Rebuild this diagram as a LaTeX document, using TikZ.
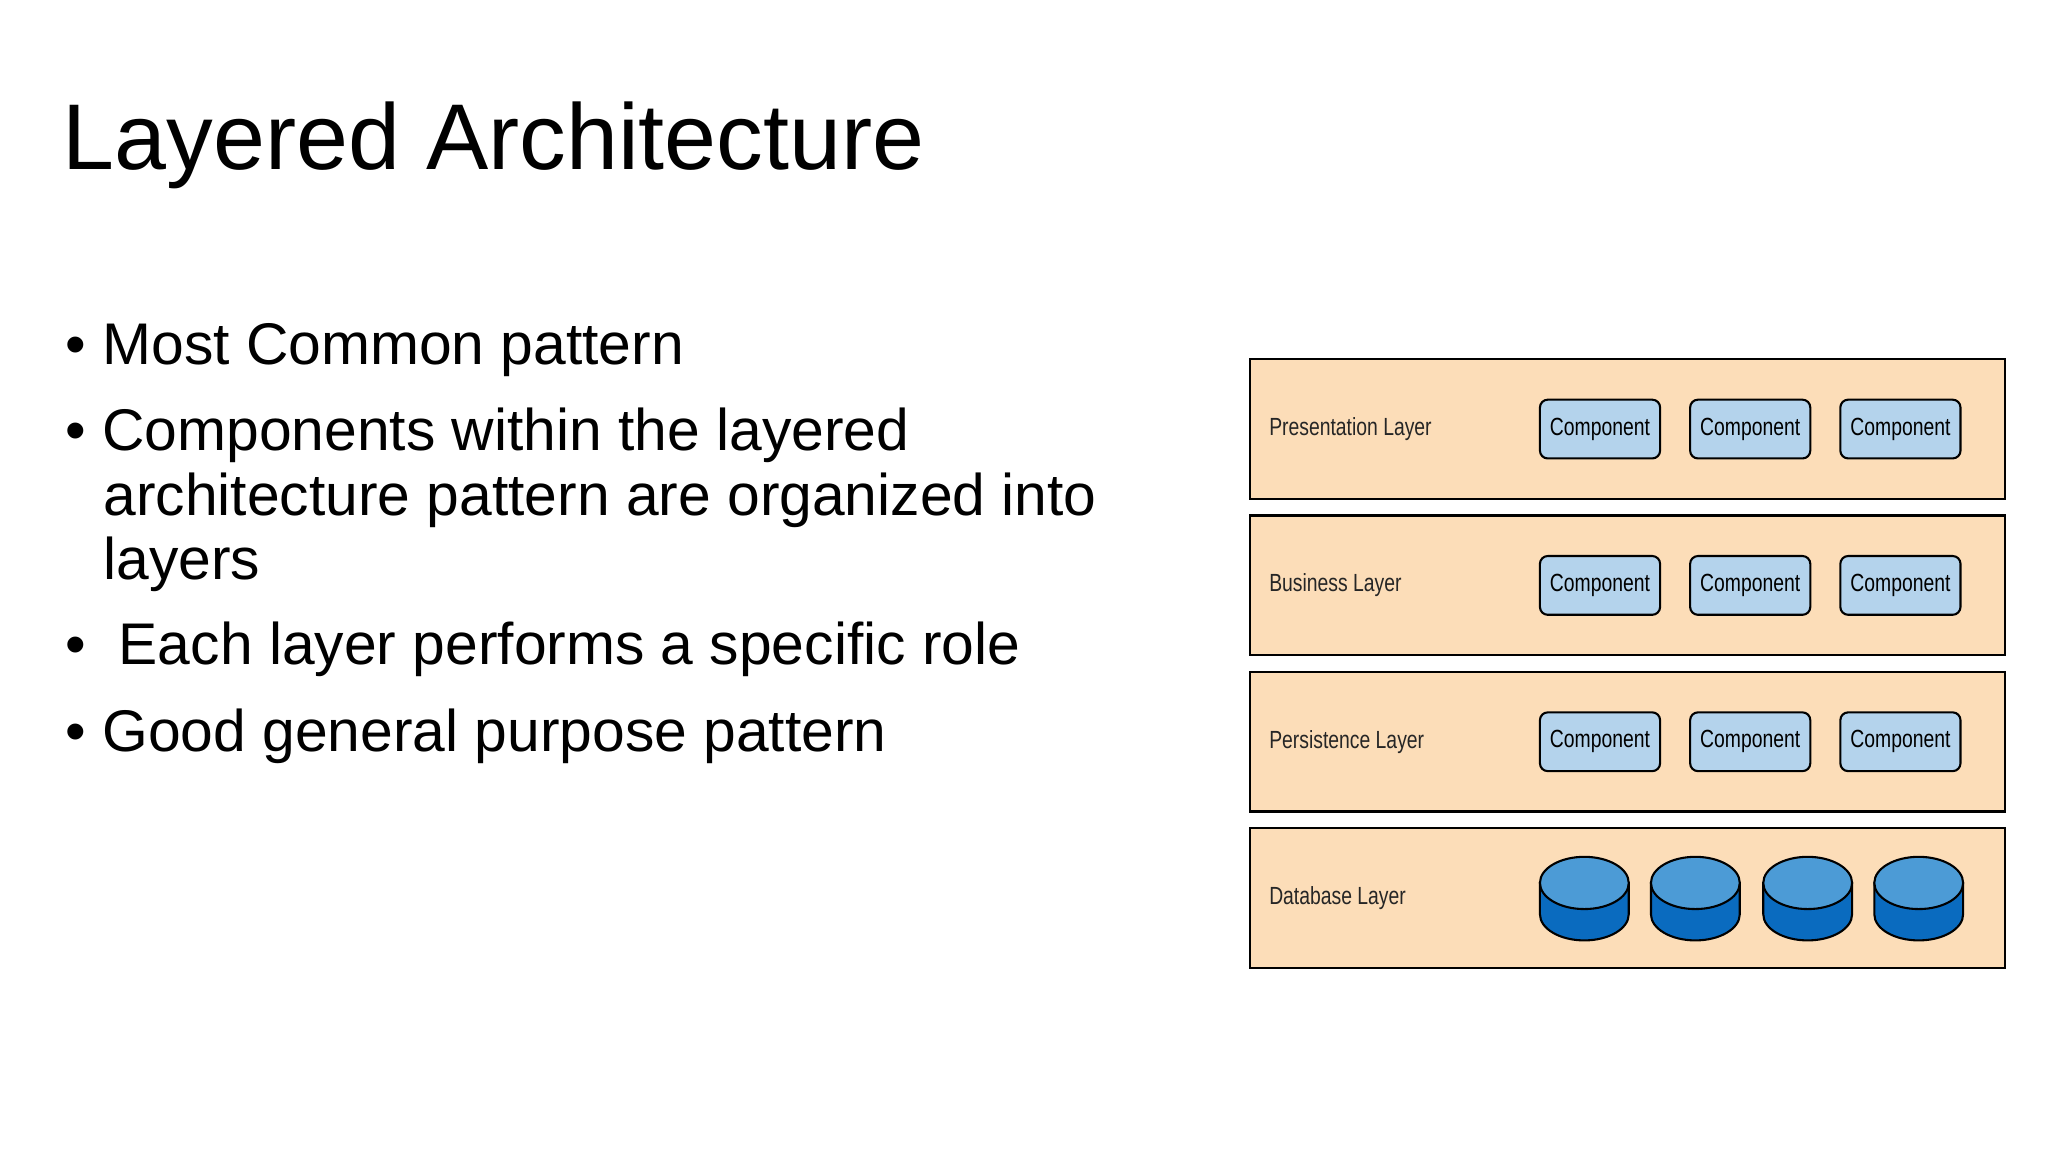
\documentclass[tikz,border=0pt]{standalone}
\usepackage{fontspec}
\setmainfont{Liberation Sans}
\begin{document}
\begin{tikzpicture}[x=1pt,y=-1pt,
  layerbox/.style={draw=black,line width=1.8pt,fill=layerfill},
  comp/.style={draw=black,line width=1.6pt,fill=compfill,rounded corners=6pt,minimum width=92pt,minimum height=45pt,inner sep=0pt,font=\fontsize{19}{20}\selectfont},
  lbl/.style={anchor=west,font=\fontsize{19}{20}\selectfont,text=black!85},
  bul/.style={anchor=base west,font=\fontsize{45}{50}\selectfont}]
\definecolor{layerfill}{HTML}{FCDDB8}
\definecolor{compfill}{HTML}{B4D3EC}
\definecolor{dbtop}{HTML}{4C9BD6}
\definecolor{dbbot}{HTML}{0A6BBF}
\useasboundingbox (0,0) rectangle (1568,882);
\fill[white] (0,0) rectangle (1568,882);
\node[anchor=base west,font=\fontsize{71.5}{80}\selectfont,inner sep=0pt] (title) at (48,130) {Layered Architecture};
\node[bul,inner sep=0pt] (b1) at (50,279) {\textbullet\ Most Common pattern};
\node[bul,inner sep=0pt,align=left] (b2) at (50,345) {\textbullet\ Components within the layered};
\node[bul,inner sep=0pt] (b2b) at (79,395) {architecture pattern are organized into};
\node[bul,inner sep=0pt] (b2c) at (79,444) {layers};
\node[bul,inner sep=0pt] (b3) at (50,509) {\textbullet\ \ Each layer performs a specific role};
\node[bul,inner sep=0pt] (b4) at (50,575) {\textbullet\ Good general purpose pattern};
\foreach \i/\t/\name in {0/Presentation Layer/pl,1/Business Layer/bl,2/Persistence Layer/sl,3/Database Layer/dl}{
  \pgfmathsetmacro{\yt}{275+\i*119.7}
  \pgfmathsetmacro{\yc}{\yt+53.5}
  \draw[layerbox] (957,\yt) rectangle (1535,\yt+107);
  \node[lbl,xscale=0.78,transform shape] (\name) at (969,\yc) {\t};
}
\foreach \i in {0,1,2}{
  \pgfmathsetmacro{\yc}{328.5+\i*119.7}
  \foreach \x [count=\j] in {1225,1340,1455}{
    \node[comp] (c\i\j) at (\x,\yc) {\scalebox{0.78}[1]{Component}};
  }
}
\foreach \x [count=\j] in {1213,1298,1384,1469}{
  \coordinate (db\j) at (\x,688);
  \begin{scope}[shift={(db\j)}]
    \draw[line width=1.6pt,fill=dbbot] (-34,-12) -- (-34,12) arc[start angle=180,end angle=0,x radius=34,y radius=20] -- (34,-12) -- cycle;
    \draw[line width=1.6pt,fill=dbtop] (0,-12) ellipse[x radius=34,y radius=20];
  \end{scope}
}
\end{tikzpicture}
\end{document}
